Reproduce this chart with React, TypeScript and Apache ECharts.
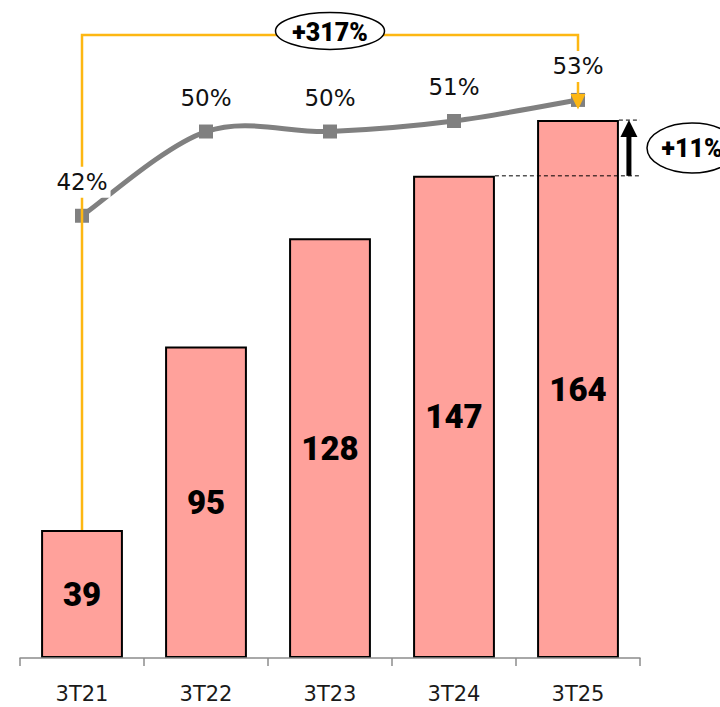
import React, { useEffect, useRef } from "react";
import * as echarts from "echarts";

const categories = ["3T21", "3T22", "3T23", "3T24", "3T25"];
const revenue = [39, 95, 128, 147, 164];
const margin = [42, 50, 50, 51, 53];
const marginLabels = ["42%", "50%", "50%", "51%", "53%"];
const totalGrowth = "+317%";
const yoyGrowth = "+11%";

const YELLOW = "#FDB713";
const GRAY = "#808080";
const THIN = "DejaVu Sans";
const BOLD = "Roboto";

export default function App() {
  const ref = useRef<HTMLDivElement>(null);
  useEffect(() => {
    document.body.style.margin = "0";
    const chart = echarts.init(ref.current!, undefined, { renderer: "svg" });
    const barRatio = 0.66;
    chart.setOption({
      animation: false,
      grid: { left: 20, right: 80, top: 2, bottom: 49, containLabel: false },
      xAxis: {
        type: "category",
        data: categories,
        z: 5,
        axisLine: { lineStyle: { color: "#8c8c8c", width: 1.5 } },
        axisTick: { show: true, length: 8, lineStyle: { color: "#8c8c8c", width: 1.5 } },
        axisLabel: { color: "#1a1a1a", fontSize: 21, fontFamily: THIN, margin: 25 },
      },
      yAxis: [
        { type: "value", min: 0, max: 200, show: false },
        { type: "value", min: 0, max: 62.3, show: false },
      ],
      series: [
        {
          type: "bar",
          data: revenue,
          barWidth: barRatio * 100 + "%",
          z: 2,
          itemStyle: { color: "#FFA19B", borderColor: "#000", borderWidth: 2 },
          label: {
            show: true,
            position: "inside",
            color: "#000",
            fontSize: 33,
            fontWeight: 900,
            fontFamily: BOLD,
          },
        },
        {
          type: "custom",
          yAxisIndex: 1,
          z: 2,
          silent: true,
          data: [0],
          renderItem: (params: any, api: any) => {
            const pts = margin.map((v, i) => api.coord([i, v]));
            const n = pts.length;
            let d = `M${pts[0][0]},${pts[0][1]}`;
            for (let i = 0; i < n - 1; i++) {
              const p0 = pts[Math.max(i - 1, 0)];
              const p1 = pts[i];
              const p2 = pts[i + 1];
              const p3 = pts[Math.min(i + 2, n - 1)];
              const c1 = [p1[0] + (p2[0] - p0[0]) / 6, p1[1] + (p2[1] - p0[1]) / 6];
              const c2 = [p2[0] - (p3[0] - p1[0]) / 6, p2[1] - (p3[1] - p1[1]) / 6];
              d += ` C${c1[0]},${c1[1]} ${c2[0]},${c2[1]} ${p2[0]},${p2[1]}`;
            }
            return {
              type: "path",
              shape: { pathData: d },
              style: { stroke: GRAY, lineWidth: 5, fill: "none" },
            };
          },
        },
        {
          type: "line",
          yAxisIndex: 1,
          data: margin,
          z: 2,
          symbol: "rect",
          symbolSize: 14,
          lineStyle: { width: 0, opacity: 0 },
          itemStyle: { color: GRAY },
        },
        {
          type: "scatter",
          yAxisIndex: 1,
          data: margin,
          symbolSize: 0,
          z: 6,
          silent: true,
          itemStyle: { opacity: 1, color: "#fff" },
          label: {
            show: true,
            position: "top",
            distance: 18,
            formatter: (p: any) => marginLabels[p.dataIndex],
            color: "#111",
            fontSize: 23,
            fontFamily: THIN,
            backgroundColor: "#fff",
            padding: [4, 3],
          },
        },
      ],
    });

    const px = (cat: string) => chart.convertToPixel({ xAxisIndex: 0 }, cat) as number;
    const py0 = (v: number) => chart.convertToPixel({ yAxisIndex: 0 }, v) as number;
    const py1 = (v: number) => chart.convertToPixel({ yAxisIndex: 1 }, v) as number;

    const x1 = px(categories[0]);
    const x2 = px(categories[1]);
    const x4 = px(categories[3]);
    const x5 = px(categories[4]);
    const band = x2 - x1;
    const half = (band * barRatio) / 2;
    const gridRight = x5 + band / 2;
    const yBar1 = py0(revenue[0]);
    const yBar4 = py0(revenue[3]);
    const yBar5 = py0(revenue[4]);
    const yPct5 = py1(margin[4]);
    const topY = 35;

    const yl = { stroke: YELLOW, lineWidth: 2.5 };
    const arrowX = x5 + half + 10;

    chart.setOption({
      graphic: [
        { type: "polyline", z: 3, shape: { points: [[x1, yBar1], [x1, topY], [x5, topY], [x5, yPct5 - 5]] }, style: { ...yl, fill: "none" } },
        { type: "polygon", z: 3, shape: { points: [[x5 - 7.5, yPct5 - 6], [x5 + 7.5, yPct5 - 6], [x5, yPct5 + 9.5]] }, style: { fill: YELLOW } },
        { type: "ellipse", z: 7, shape: { cx: (x1 + x5) / 2, cy: 31, rx: 54.5, ry: 18.5 }, style: { fill: "#fff", stroke: "#000", lineWidth: 1.5 } },
        { type: "text", z: 8, x: (x1 + x5) / 2, y: 32, style: { text: totalGrowth, fontSize: 25, fontWeight: 900, fontFamily: BOLD, fill: "#000", align: "center", verticalAlign: "middle" } },
        { type: "line", z: 3, shape: { x1: x4 + half, y1: yBar4, x2: gridRight, y2: yBar4 }, style: { stroke: "#000", lineWidth: 1, lineDash: [4, 3] } },
        { type: "line", z: 3, shape: { x1: x5 + half, y1: yBar5, x2: gridRight, y2: yBar5 }, style: { stroke: "#000", lineWidth: 1, lineDash: [4, 3] } },
        { type: "line", z: 4, shape: { x1: arrowX, y1: yBar4, x2: arrowX, y2: yBar5 + 14 }, style: { stroke: "#000", lineWidth: 5 } },
        { type: "polygon", z: 4, shape: { points: [[arrowX - 8.5, yBar5 + 17], [arrowX + 8.5, yBar5 + 17], [arrowX, yBar5]] }, style: { fill: "#000" } },
        { type: "ellipse", z: 7, shape: { cx: gridRight + 52, cy: (yBar4 + yBar5) / 2, rx: 45, ry: 25 }, style: { fill: "#fff", stroke: "#000", lineWidth: 1.5 } },
        { type: "text", z: 8, x: gridRight + 52, y: (yBar4 + yBar5) / 2 + 1, style: { text: yoyGrowth, fontSize: 25, fontWeight: 900, fontFamily: BOLD, fill: "#000", align: "center", verticalAlign: "middle" } },
      ],
    });

    return () => chart.dispose();
  }, []);
  return <div ref={ref} style={{ width: 720, height: 707 }} />;
}
